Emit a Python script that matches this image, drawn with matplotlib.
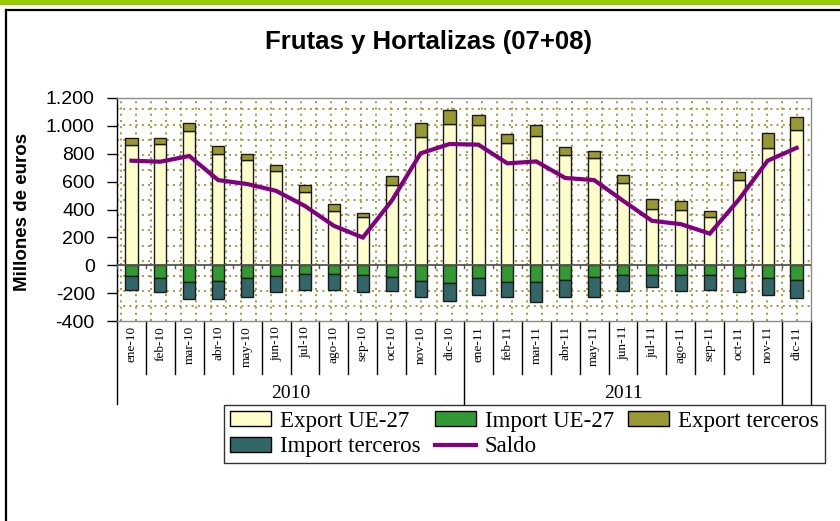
import matplotlib
matplotlib.use("Agg")
import matplotlib.pyplot as plt
import numpy as np
from matplotlib.patches import Rectangle, Patch
from matplotlib.lines import Line2D
import matplotlib.transforms as mtransforms

months = ["ene-10", "feb-10", "mar-10", "abr-10", "may-10", "jun-10", "jul-10", "ago-10",
          "sep-10", "oct-10", "nov-10", "dic-10", "ene-11", "feb-11", "mar-11", "abr-11",
          "may-11", "jun-11", "jul-11", "ago-11", "sep-11", "oct-11", "nov-11", "dic-11"]
years = ["2010", "2011"]

export_ue = [863, 870, 961, 798, 753, 678, 522, 386, 343, 576, 923, 1014,
             1007, 880, 930, 791, 770, 590, 403, 396, 343, 611, 842, 971]
export_terceros = [51, 44, 61, 55, 45, 41, 54, 57, 35, 64, 101, 101,
                   72, 62, 74, 60, 52, 57, 74, 62, 43, 58, 110, 96]
import_ue = [-79, -94, -120, -113, -94, -79, -65, -65, -72, -82, -113, -129,
             -94, -120, -120, -104, -84, -68, -68, -68, -72, -94, -94, -108]
import_terceros = [-96, -100, -125, -132, -132, -115, -110, -110, -122, -103, -115, -128,
                   -117, -108, -144, -122, -144, -117, -88, -117, -103, -100, -120, -127]
saldo = [750, 743, 784, 611, 583, 534, 425, 283, 199, 463, 803, 870,
         865, 731, 745, 626, 611, 463, 319, 295, 227, 470, 750, 842]

C_EXP_UE = "#FFFFCC"
C_IMP_UE = "#339933"
C_EXP_T = "#999933"
C_IMP_T = "#336666"
C_SALDO = "#800080"
C_GRID = "#9C9C3C"

W, H = 840, 521
fig = plt.figure(figsize=(W / 100, H / 100), dpi=100)
fig.patch.set_facecolor("white")

def fx(x):
    return x / W

def fy(y):
    return 1 - y / H

# top green band
fig.add_artist(Rectangle((0, fy(5)), 1, 5 / H, transform=fig.transFigure,
                         facecolor="#99CC00", edgecolor="none"))
# outer frame (left and top)
fig.add_artist(Line2D([fx(6), fx(6)], [fy(10), 0], transform=fig.transFigure,
                      color="black", lw=1.6))
fig.add_artist(Line2D([fx(6), 1], [fy(10), fy(10)], transform=fig.transFigure,
                      color="black", lw=1.6))

L, R, T, B = 117, 811, 98, 321
ax = fig.add_axes([fx(L), fy(B), (R - L) / W, (B - T) / H])
ax.set_xlim(-0.5, 23.5)
ax.set_ylim(-400, 1200)

x = np.arange(len(months))

# dotted pattern grid
for yv in np.arange(-293, 1200, 108.5):
    ax.axhline(yv, color=C_GRID, lw=1.4, ls=(0, (1, 2.2)), zorder=0)
for xv in np.arange(-0.37, 23.5, 0.52):
    ax.axvline(xv, color=C_GRID, lw=1.4, ls=(0, (1, 2.2)), zorder=0)

bw = 0.42
ec = "#1a1a1a"
ax.bar(x, export_ue, bw, color=C_EXP_UE, edgecolor=ec, lw=1.0, zorder=3, label="Export UE-27")
ax.bar(x, export_terceros, bw, bottom=export_ue, color=C_EXP_T, edgecolor=ec, lw=1.0, zorder=3,
       label="Export terceros")
ax.bar(x, import_ue, bw, color=C_IMP_UE, edgecolor=ec, lw=1.0, zorder=3, label="Import UE-27")
ax.bar(x, import_terceros, bw, bottom=import_ue, color=C_IMP_T, edgecolor=ec, lw=1.0, zorder=3,
       label="Import terceros")
ax.plot(x, saldo, color=C_SALDO, lw=3.0, zorder=4, label="Saldo", solid_joinstyle="miter")

# zero line and small ticks
ax.axhline(0, color="#555555", lw=1.3, zorder=5)
for b in np.arange(-0.5, 24, 1):
    ax.plot([b, b], [0, -22], color="#555555", lw=1.0, zorder=5)

# spines
for s in ["top", "right"]:
    ax.spines[s].set_color("#8c8c8c")
    ax.spines[s].set_linewidth(1.0)
ax.spines["left"].set_color("black")
ax.spines["left"].set_linewidth(1.0)
ax.spines["bottom"].set_color("#8c8c8c")
ax.spines["bottom"].set_linewidth(1.0)

ax.set_yticks(np.arange(-400, 1201, 200))
ax.set_yticklabels(["-400", "-200", "0", "200", "400", "600", "800", "1.000", "1.200"],
                   fontfamily="Liberation Sans", fontsize=14)
ax.tick_params(axis="y", length=7, width=1.0, direction="out", pad=9)
ax.set_xticks([])

fig.text(fx(23), fy(212), "Millones de euros", rotation=90, ha="center", va="center",
         fontfamily="Liberation Sans", fontsize=13.5, fontweight="bold")

fig.text(fx(429), fy(42), "Frutas y Hortalizas (07+08)", ha="center", va="center",
         fontfamily="Liberation Sans", fontsize=18.5, fontweight="bold")

# category axis
trans = mtransforms.blended_transform_factory(ax.transData, ax.transAxes)
ah = B - T
def ay(ypix):
    return -(ypix - B) / ah

for i, m in enumerate(months):
    ax.text(i, ay(326), m, rotation=90, ha="center", va="top", transform=trans,
            fontfamily="Liberation Serif", fontsize=9.5, clip_on=False)
group_bounds = [-0.5, 11.5, 22.5, 23.5]
for b in np.arange(-0.5, 24, 1):
    y_end = ay(404) if b in group_bounds else ay(374)
    ax.plot([b, b], [0, y_end], transform=trans, color="black", lw=1.0, clip_on=False)
ax.text(5.5, ay(393), years[0], ha="center", va="center", transform=trans,
        fontfamily="Liberation Serif", fontsize=14, clip_on=False)
ax.text(17.0, ay(393), years[1], ha="center", va="center", transform=trans,
        fontfamily="Liberation Serif", fontsize=14, clip_on=False)

# legend
h_exp_ue = Patch(facecolor=C_EXP_UE, edgecolor="black", lw=1.0)
h_imp_ue = Patch(facecolor=C_IMP_UE, edgecolor="black", lw=1.0)
h_exp_t = Patch(facecolor=C_EXP_T, edgecolor="black", lw=1.0)
h_imp_t = Patch(facecolor=C_IMP_T, edgecolor="black", lw=1.0)
h_saldo = Line2D([], [], color=C_SALDO, lw=3.0)
handles = [h_exp_ue, h_imp_t, h_imp_ue, h_saldo, h_exp_t]
labels = ["Export UE-27", "Import terceros", "Import UE-27", "Saldo", "Export terceros"]
leg = fig.legend(handles, labels, loc="upper left", bbox_to_anchor=(fx(224), fy(405)),
                 ncol=3, frameon=True, fancybox=False, edgecolor="black",
                 prop={"family": "Liberation Serif", "size": 16.5},
                 handlelength=1.8, handleheight=0.6, handletextpad=0.4,
                 columnspacing=0.6, labelspacing=0.2, borderpad=0.25, borderaxespad=0)
leg.get_frame().set_linewidth(1.0)
leg.set_zorder(10)

fig.savefig("out.png", dpi=100, facecolor="white")
